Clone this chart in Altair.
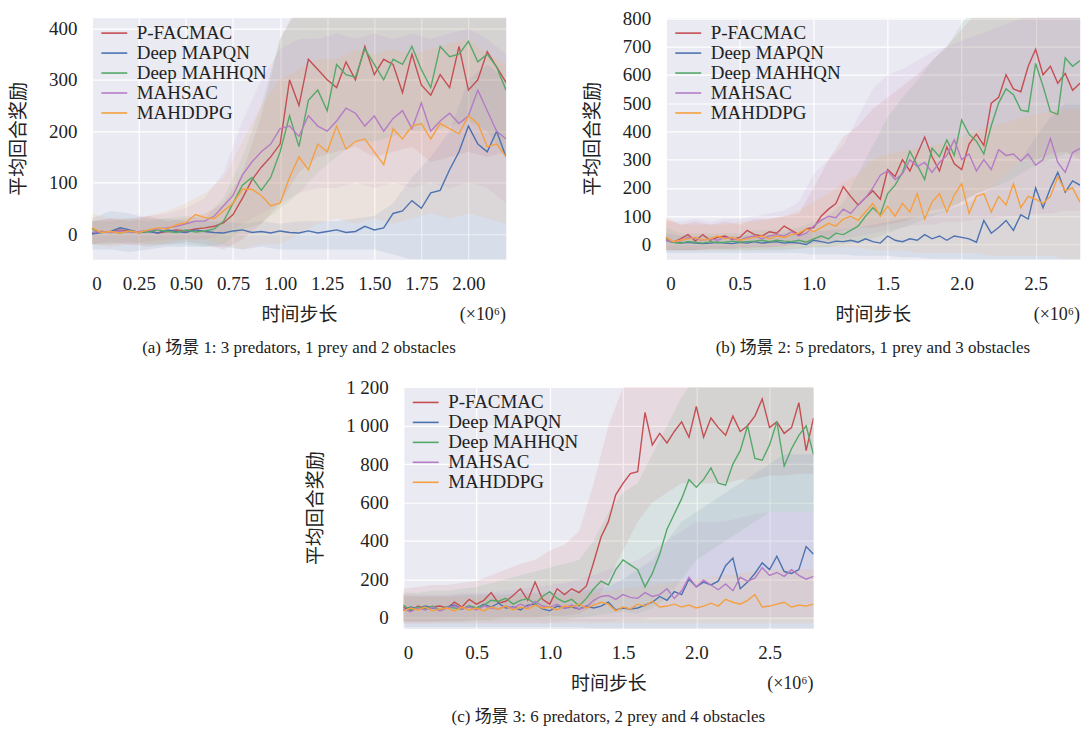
import altair as alt
import pandas as pd

SERIES = ["P-FACMAC", "Deep MAPQN", "Deep MAHHQN", "MAHSAC", "MAHDDPG"]
COLORS = ["#C44E52", "#4C72B0", "#55A868", "#B47CC7", "#F5A040"]
SERIF = "Liberation Serif, Noto Sans CJK SC"
INK = "#222222"

# ---------------- panel (a) : time grid 0..2.2 (x10^6), step 0.05 ----------------
A_T = [round(i * 0.05, 2) for i in range(45)]
A_RED = [2, 5, 3, 8, 5, 3, 6, 2, 5, 8, 6, 10, 12, 15, 22, 38, 70, 105, 130, 150,
         175, 300, 250, 340, 320, 300, 285, 335, 300, 365, 310, 340, 330, 275, 350, 290, 270, 310, 285, 365,
         280, 300, 355, 325, 295]
A_BLUE = [0, 3, 5, 12, 8, 3, 5, 2, 8, 5, 3, 8, 5, 3, 2, 6, 8, 3, 5, 2,
          6, 3, 2, 6, 2, 5, 8, 3, 5, 15, 8, 12, 40, 45, 65, 50, 80, 85, 125, 160,
          210, 175, 160, 200, 150]
A_GREEN = [10, 3, 5, 2, 6, 3, 5, 8, 5, 3, 8, 4, 6, 10, 25, 60, 95, 110, 85, 110,
           160, 230, 170, 260, 280, 240, 330, 310, 305, 360, 330, 300, 340, 330, 365, 320, 285, 365, 345, 350,
           375, 335, 350, 325, 280]
A_PURPLE = [3, 5, 3, 6, 4, 5, 7, 10, 12, 15, 20, 25, 25, 35, 55, 75, 115, 140, 160, 175,
            205, 210, 190, 230, 210, 200, 220, 245, 235, 210, 230, 200, 225, 240, 205, 255, 200, 220, 235, 215,
            230, 280, 240, 200, 185]
A_ORANGE = [12, 3, 5, 2, 6, 3, 8, 12, 10, 18, 22, 38, 32, 30, 45, 60, 87, 87, 75, 55,
            60, 110, 150, 125, 175, 160, 210, 165, 180, 185, 160, 135, 205, 185, 210, 215, 185, 215, 205, 195,
            230, 215, 170, 175, 150]

# bands (spread across runs), step 0.1
A_BT = [round(i * 0.1, 1) for i in range(23)]
A_BAND = {
    "P-FACMAC": ([-20, -15, -20, -25, -20, -15, -20, -30, -10, 20, 60, 120, 150, 160, 170, 150, 160, 170, 140, 150, 160, 150, 160],
                 [25, 30, 25, 35, 25, 30, 40, 60, 120, 230, 380, 450, 460, 450, 470, 450, 460, 470, 450, 460, 470, 450, 460]),
    "Deep MAPQN": ([-30, -30, -35, -30, -25, -25, -25, -25, -30, -25, -30, -30, -30, -30, -30, -30, -40, -50, -55, -55, -55, -55, -55],
                   [30, 45, 40, 30, 30, 25, 25, 25, 20, 25, 20, 25, 25, 25, 30, 35, 60, 110, 150, 200, 300, 330, 300]),
    "Deep MAHHQN": ([-20, -20, -15, -20, -20, -20, -25, -20, 10, 20, 50, 80, 120, 150, 180, 180, 190, 200, 200, 210, 220, 200, 150],
                    [25, 25, 30, 25, 30, 35, 30, 70, 150, 250, 380, 440, 460, 460, 470, 460, 470, 460, 470, 470, 480, 470, 460]),
    "MAHSAC": ([-20, -20, -20, -15, -10, -10, -10, 0, 20, 40, 60, 80, 90, 90, 100, 90, 100, 90, 100, 90, 100, 90, 60],
               [25, 30, 30, 35, 40, 50, 70, 120, 220, 300, 360, 380, 380, 390, 380, 390, 380, 390, 380, 390, 400, 380, 350]),
    "MAHDDPG": ([-20, -25, -20, -20, -15, -10, -10, -20, -30, -20, -20, 0, 20, 30, 20, 30, 20, 30, 40, 30, 40, 30, 20],
                [40, 30, 30, 35, 45, 60, 80, 110, 180, 250, 300, 320, 340, 340, 360, 350, 360, 350, 360, 370, 380, 350, 330]),
}

# ---------------- panel (b) : time grid 0..2.8, step 0.05 ----------------
B_T = [round(i * 0.05, 2) for i in range(57)]
B_RED = [25, 8, 20, 35, 12, 35, 15, 25, 30, 18, 25, 50, 35, 30, 45, 40, 65, 50, 35, 55,
         60, 100, 125, 145, 205, 170, 140, 165, 190, 160, 265, 240, 300, 260, 320, 380, 310, 260, 345, 285,
         265, 355, 390, 350, 500, 520, 600, 550, 540, 630, 690, 600, 630, 570, 605, 545, 570]
B_BLUE = [15, 8, 5, 8, 5, 3, 5, 8, 5, 3, 8, 5, 10, 5, 8, 10, 5, 8, 5, 0,
          15, 10, 5, 12, 10, 15, 8, 20, 10, 5, 30, 15, 10, 20, 15, 35, 20, 30, 15, 30,
          25, 20, 8, 85, 40, 60, 85, 50, 105, 90, 200, 130, 200, 255, 185, 225, 210]
B_GREEN = [20, 8, 5, 10, 8, 5, 10, 6, 8, 12, 8, 10, 12, 15, 10, 15, 12, 10, 15, 8,
           20, 30, 20, 40, 35, 50, 65, 100, 130, 105, 180, 210, 255, 330, 280, 230, 340, 310, 370, 315,
           440, 390, 365, 320, 420, 500, 550, 530, 475, 470, 640, 560, 470, 460, 660, 630, 650]
B_PURPLE = [15, 10, 12, 25, 20, 15, 20, 15, 25, 20, 15, 25, 30, 20, 30, 35, 30, 45, 30, 40,
            65, 85, 100, 95, 125, 110, 140, 165, 200, 245, 260, 230, 250, 300, 275, 290, 255, 290, 315, 370,
            300, 320, 260, 300, 265, 335, 315, 320, 295, 320, 280, 300, 375, 290, 255, 325, 340]
B_ORANGE = [25, 10, 15, 20, 25, 15, 20, 30, 20, 25, 15, 20, 25, 30, 20, 30, 25, 35, 40, 55,
            45, 60, 75, 65, 90, 100, 85, 115, 145, 100, 135, 100, 145, 115, 180, 90, 150, 180, 115, 175,
            215, 110, 170, 180, 115, 170, 140, 215, 130, 170, 160, 145, 170, 240, 190, 200, 150]

B_BT = [round(i * 0.1, 1) for i in range(29)]
B_BAND = {
    "P-FACMAC": ([-20, -20, -20, -15, -15, -15, -10, -10, -5, 0, 10, 30, 50, 60, 60, 70, 80, 100, 120, 130, 150, 180, 200, 250, 300, 300, 320, 330, 300],
                 [90, 70, 80, 70, 80, 70, 90, 90, 100, 110, 200, 300, 380, 420, 480, 520, 560, 600, 650, 700, 760, 820, 850, 850, 850, 850, 850, 850, 850]),
    "Deep MAPQN": ([-30, -30, -30, -30, -30, -30, -30, -30, -30, -30, -35, -35, -35, -40, -40, -40, -45, -45, -50, -50, -50, -55, -55, -55, -55, -55, -55, -55, -55],
                   [40, 30, 30, 30, 30, 30, 35, 35, 40, 40, 45, 50, 55, 60, 70, 80, 90, 100, 110, 120, 140, 160, 200, 250, 300, 380, 450, 500, 500]),
    "Deep MAHHQN": ([-20, -20, -20, -20, -20, -20, -20, -20, -20, -15, -10, -10, 0, 10, 20, 40, 60, 80, 100, 120, 150, 180, 200, 220, 250, 280, 300, 320, 320],
                    [60, 40, 40, 40, 40, 40, 50, 50, 50, 60, 80, 100, 150, 250, 350, 450, 520, 580, 650, 700, 780, 850, 850, 850, 850, 850, 850, 850, 850]),
    "MAHSAC": ([-20, -20, -20, -15, -15, -10, -10, -10, -5, 0, 0, 10, 20, 30, 40, 50, 60, 70, 70, 80, 80, 90, 90, 100, 100, 110, 110, 120, 120],
               [80, 80, 90, 80, 90, 90, 100, 110, 120, 150, 250, 300, 350, 450, 550, 600, 620, 650, 680, 700, 720, 740, 760, 780, 800, 800, 820, 820, 820]),
    "MAHDDPG": ([-20, -20, -20, -20, -20, -20, -20, -15, -15, -15, -10, -10, -10, -10, -20, -20, -20, -30, -30, -30, -30, -30, -40, -40, -40, -40, -40, -50, -50],
                [100, 70, 70, 70, 70, 80, 80, 90, 100, 120, 150, 180, 220, 250, 300, 320, 330, 340, 350, 360, 380, 400, 420, 430, 450, 460, 470, 480, 480]),
}

# ---------------- panel (c) : time grid 0..2.8, step 0.05 ----------------
C_T = [round(i * 0.05, 2) for i in range(57)]
C_RED = [55, 35, 60, 45, 55, 60, 50, 80, 55, 95, 70, 90, 130, 75, 85, 115, 150, 90, 185, 95,
         70, 150, 120, 150, 130, 165, 290, 420, 500, 640, 700, 750, 760, 1070, 900, 960, 910, 970, 1020, 940,
         1100, 940, 1040, 990, 950, 1050, 970, 1000, 1050, 1140, 990, 1020, 960, 990, 1120, 870, 1040]
C_BLUE = [40, 55, 45, 60, 50, 40, 55, 65, 45, 60, 50, 70, 55, 75, 50, 55, 40, 65, 70, 45,
          35, 60, 50, 55, 45, 60, 50, 60, 80, 40, 50, 45, 50, 65, 80, 110, 90, 135, 120, 200,
          160, 185, 170, 190, 270, 310, 150, 185, 230, 285, 250, 320, 240, 230, 250, 370, 330]
C_GREEN = [65, 40, 55, 45, 60, 40, 55, 50, 45, 60, 50, 65, 90, 85, 100, 70, 90, 100, 70, 110,
           135, 100, 80, 95, 60, 100, 150, 190, 170, 250, 300, 275, 250, 160, 230, 330, 460, 540, 620, 720,
           680, 720, 780, 700, 690, 800, 870, 1000, 830, 820, 900, 1020, 790, 880, 950, 1000, 850]
C_PURPLE = [45, 30, 50, 40, 55, 35, 50, 60, 45, 55, 40, 60, 50, 45, 60, 50, 70, 55, 85, 60,
            55, 70, 50, 65, 45, 55, 90, 110, 115, 95, 120, 105, 100, 130, 110, 120, 150, 100, 140, 210,
            160, 195, 170, 145, 175, 140, 210, 190, 205, 260, 220, 235, 215, 250, 220, 200, 215]
C_ORANGE = [35, 50, 40, 55, 35, 45, 50, 35, 55, 40, 50, 35, 55, 45, 60, 40, 55, 45, 65, 50,
            55, 40, 60, 55, 70, 50, 65, 80, 70, 35, 55, 45, 70, 60, 85, 55, 60, 70, 55, 65,
            50, 60, 75, 60, 95, 80, 70, 90, 120, 55, 60, 70, 80, 55, 65, 60, 70]

C_BT = [round(i * 0.1, 1) for i in range(29)]
C_BAND = {
    "P-FACMAC": ([-20, -20, -20, -15, -15, -10, -10, 0, 0, 0, 10, 10, 20, 60, 200, 350, 500, 600, 650, 700, 700, 700, 700, 720, 720, 740, 740, 750, 750],
                 [150, 160, 170, 170, 180, 190, 220, 250, 280, 300, 350, 380, 450, 700, 1000, 1200, 1250, 1250, 1250, 1250, 1250, 1250, 1250, 1250, 1250, 1250, 1250, 1250, 1250]),
    "Deep MAPQN": ([-50, -50, -50, -50, -50, -50, -50, -50, -50, -50, -50, -50, -50, -55, -55, -55, -55, -55, -55, -55, -55, -55, -55, -55, -55, -55, -55, -55, -55],
                   [110, 110, 110, 110, 120, 120, 120, 120, 130, 130, 130, 130, 140, 150, 160, 200, 250, 300, 400, 500, 550, 600, 650, 700, 750, 800, 850, 850, 850]),
    "Deep MAHHQN": ([-20, -20, -20, -20, -20, -15, -15, -10, -10, -10, -10, -10, 0, 10, 20, 30, 20, 50, 100, 200, 300, 350, 400, 450, 500, 550, 550, 550, 550],
                    [130, 130, 140, 140, 150, 160, 180, 200, 220, 240, 260, 280, 300, 400, 550, 650, 700, 850, 1000, 1150, 1250, 1250, 1250, 1250, 1250, 1250, 1250, 1250, 1250]),
    "MAHSAC": ([-30, -30, -30, -30, -30, -30, -30, -30, -30, -30, -30, -20, -20, -20, -20, -10, -10, 0, 0, 0, 0, 0, 0, 0, 0, 0, 0, 0, 0],
               [120, 120, 120, 120, 130, 130, 130, 140, 150, 160, 170, 180, 200, 220, 250, 280, 300, 350, 400, 450, 500, 500, 500, 520, 540, 550, 550, 550, 550]),
    "MAHDDPG": ([-30] * 29,
                [120, 110, 110, 110, 110, 110, 110, 110, 120, 120, 120, 120, 130, 130, 140, 150, 160, 170, 180, 190, 200, 210, 220, 230, 240, 250, 250, 250, 250]),
}


def lines_df(t, series_lists):
    rows = []
    for name, vals in zip(SERIES, series_lists):
        for ti, v in zip(t, vals):
            rows.append({"t": ti, "v": v, "series": name})
    return pd.DataFrame(rows)


def band_df(t, bands):
    rows = []
    for name in SERIES:
        lo, hi = bands[name]
        for ti, a, b in zip(t, lo, hi):
            rows.append({"t": ti, "lo": a, "hi": b, "series": name})
    return pd.DataFrame(rows)


def panel(ldf, bdf, xdom, ydom, xticks, xfmt, yticks, ylabexpr, width, height, caption):
    xaxis = alt.Axis(values=xticks, title="时间步长",
                     labelExpr=f"datum.value == 0 ? '0' : format(datum.value, '{xfmt}')")
    yaxis = alt.Axis(values=yticks, title="平均回合奖励", labelExpr=ylabexpr)
    xs = alt.Scale(domain=xdom, nice=False, zero=False)
    ys = alt.Scale(domain=ydom, nice=False, zero=False)
    cs = alt.Scale(domain=SERIES, range=COLORS)
    # band fill scale: same colours, listed in reverse so its legend is kept apart (and hidden)
    fs = alt.Scale(domain=SERIES[::-1], range=COLORS[::-1])
    band = alt.Chart(bdf).mark_area(opacity=0.11, clip=True).encode(
        x=alt.X("t:Q", scale=xs, axis=xaxis),
        y=alt.Y("lo:Q", scale=ys, axis=yaxis),
        y2="hi:Q",
        fill=alt.Fill("series:N", scale=fs, legend=None),
    )
    line = alt.Chart(ldf).mark_line(strokeWidth=1.4, clip=True).encode(
        x=alt.X("t:Q", scale=xs, axis=xaxis),
        y=alt.Y("v:Q", scale=ys, axis=yaxis),
        color=alt.Color("series:N", scale=cs, sort=SERIES, legend=alt.Legend(
            title=None, orient="none", legendX=13, legendY=6,
            symbolType="M-1.73,0H1.73", symbolSize=225, symbolStrokeWidth=1.6,
            labelFont="Liberation Serif", labelFontSize=19, labelColor=INK,
            labelOffset=13, rowPadding=-5, padding=0)),
    )
    note = alt.Chart(pd.DataFrame({"txt": ["(×10⁶)"]})).mark_text(
        align="right", baseline="middle", font="Liberation Serif", fontSize=18, color=INK
    ).encode(text="txt:N", x=alt.value(width), y=alt.value(height + 56))
    return alt.layer(band, line, note).properties(
        width=width, height=height,
        title=alt.TitleParams(caption, orient="bottom", anchor="middle", frame="group",
                              font=SERIF, fontSize=17, fontWeight="normal", color=INK, offset=16),
        view=alt.ViewBackground(fill="#EAEAF2", stroke="transparent"),
    )


pa = panel(lines_df(A_T, [A_RED, A_BLUE, A_GREEN, A_PURPLE, A_ORANGE]), band_df(A_BT, A_BAND),
           [0, 2.2], [-49, 421], [0, 0.25, 0.5, 0.75, 1.0, 1.25, 1.5, 1.75, 2.0], ".2f",
           [0, 100, 200, 300, 400], "format(datum.value, 'd')", 415, 242,
           "(a) 场景 1: 3 predators, 1 prey and 2 obstacles")
pb = panel(lines_df(B_T, [B_RED, B_BLUE, B_GREEN, B_PURPLE, B_ORANGE]), band_df(B_BT, B_BAND),
           [0, 2.8], [-52, 802], [0, 0.5, 1.0, 1.5, 2.0, 2.5], ".1f",
           [0, 100, 200, 300, 400, 500, 600, 700, 800], "format(datum.value, 'd')", 415, 242,
           "(b) 场景 2: 5 predators, 1 prey and 3 obstacles")
pc = panel(lines_df(C_T, [C_RED, C_BLUE, C_GREEN, C_PURPLE, C_ORANGE]), band_df(C_BT, C_BAND),
           [0, 2.8], [-57, 1202], [0, 0.5, 1.0, 1.5, 2.0, 2.5], ".1f",
           [0, 200, 400, 600, 800, 1000, 1200], "replace(format(datum.value, ','), ',', ' ')", 411, 242,
           "(c) 场景 3: 6 predators, 2 prey and 4 obstacles")

spacer = alt.Chart(pd.DataFrame({"s": [0]})).mark_point(opacity=0).encode(
    x=alt.X("s:Q", axis=None), y=alt.Y("s:Q", axis=None)
).properties(width=312, height=10, view=alt.ViewBackground(fill="transparent", stroke="transparent"))

row1 = alt.hconcat(pa, pb, spacing=160, bounds="flush").resolve_scale(
    color="independent", fill="independent").resolve_legend(color="independent", fill="independent")
row2 = alt.hconcat(spacer, pc, spacing=0, bounds="flush").resolve_scale(
    color="independent", fill="independent").resolve_legend(color="independent", fill="independent")

chart = alt.vconcat(row1, row2, spacing=20).resolve_scale(
    color="independent", fill="independent").resolve_legend(
    color="independent", fill="independent").properties(
    padding={"left": 1, "top": 0, "right": 0, "bottom": 0}, background="white"
).configure_axis(
    grid=True, gridColor="white", gridWidth=1.2, domain=False, ticks=False,
    labelFont="Liberation Serif", labelFontSize=19, labelColor=INK, labelPadding=15,
    titleFont=SERIF, titleFontSize=19, titleFontWeight="normal", titleColor=INK, titlePadding=12,
).configure_axisY(titlePadding=20).configure_legend(labelFont="Liberation Serif")

chart.save("out.html", embed_options={"renderer": "svg", "actions": False})
